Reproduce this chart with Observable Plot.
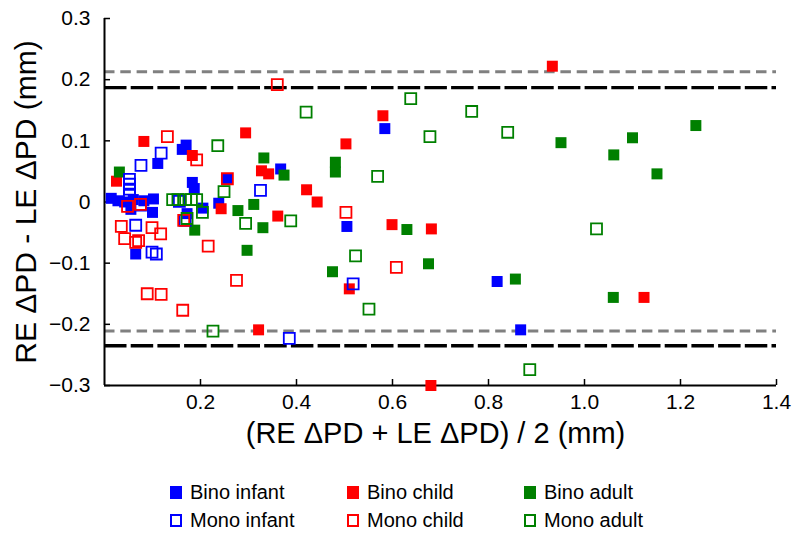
<!DOCTYPE html>
<html><head><meta charset="utf-8">
<script src="https://cdn.jsdelivr.net/npm/d3@7"></script>
<script src="https://cdn.jsdelivr.net/npm/@observablehq/plot@0.6"></script>
<style>
html,body{margin:0;padding:0;background:#fff;}
body{font-family:"Liberation Sans",Arial,Helvetica,sans-serif;width:800px;height:555px;overflow:hidden;}
#legend{position:relative;width:800px;height:95px;}
.item{position:absolute;height:24px;display:flex;align-items:center;font-size:20px;color:#000;white-space:nowrap;}
.sw{width:12px;height:13px;margin-right:8px;box-sizing:border-box;}
</style></head><body>
<div id="chart"></div>
<div id="legend"></div>
<script>
// ---- data: [mean, difference] in mm ----
const binoInfant = [[0.014,0.006],[0.028,0.002],[0.042,0.000],[0.060,0.004],[0.082,0.002],[0.102,0.005],
  [0.055,-0.012],[0.100,-0.017],[0.065,-0.085],[0.111,0.063],[0.170,0.093],[0.162,0.086],[0.183,0.032],
  [0.187,0.022],[0.205,-0.010],[0.172,-0.019],[0.238,-0.002],[0.255,0.038],[0.367,0.054],[0.505,-0.040],
  [0.584,0.120],[0.818,-0.130],[0.867,-0.209]];
const binoChild = [[0.025,0.034],[0.082,0.099],[0.183,0.076],[0.243,-0.011],[0.294,0.113],[0.327,0.051],
  [0.342,0.046],[0.361,-0.023],[0.421,0.020],[0.443,0.000],[0.503,0.095],[0.580,0.141],[0.599,-0.037],
  [0.681,-0.044],[0.510,-0.142],[0.321,-0.209],[0.680,-0.300],[0.933,0.222],[1.124,-0.156]];
const binoAdult = [[0.031,0.049],[0.188,-0.046],[0.278,-0.014],[0.311,-0.004],[0.330,-0.042],[0.297,-0.079],
  [0.332,0.072],[0.374,0.044],[0.481,0.065],[0.481,0.049],[0.475,-0.114],[0.630,-0.045],[0.675,-0.101],
  [0.856,-0.126],[0.951,0.097],[1.061,0.077],[1.100,0.105],[1.151,0.046],[1.232,0.125],[1.060,-0.156]];
const monoInfant = [[0.118,0.080],[0.076,0.060],[0.052,0.037],[0.052,0.029],[0.052,0.021],[0.052,0.013],
  [0.075,-0.005],[0.065,-0.038],[0.099,-0.082],[0.108,-0.085],[0.156,0.001],[0.168,-0.030],[0.325,0.019],
  [0.518,-0.134],[0.385,-0.223]];
const monoChild = [[0.131,0.107],[0.192,0.069],[0.048,-0.007],[0.075,-0.004],[0.035,-0.040],[0.042,-0.060],
  [0.065,-0.066],[0.071,-0.063],[0.099,-0.042],[0.117,-0.052],[0.089,-0.150],[0.118,-0.151],[0.163,-0.177],
  [0.216,-0.072],[0.275,-0.128],[0.165,-0.030],[0.256,0.038],[0.360,0.192],[0.503,-0.017],[0.608,-0.107]];
const monoAdult = [[0.142,0.004],[0.153,0.004],[0.169,0.004],[0.181,0.004],[0.192,0.004],[0.204,-0.017],
  [0.172,-0.027],[0.236,0.092],[0.249,0.017],[0.294,-0.035],[0.388,-0.031],[0.420,0.147],[0.569,0.042],
  [0.523,-0.088],[0.551,-0.175],[0.638,0.169],[0.678,0.107],[0.765,0.148],[0.840,0.114],[1.025,-0.044],
  [0.886,-0.274],[0.226,-0.211]];

// limits of agreement
const grayLimits = [0.213, -0.211];
const blackLimits = [0.187, -0.235];

// ticks
const xTicks = [0.2, 0.4, 0.6, 0.8, 1.0, 1.2, 1.4];
const xTickLabels = ["0.2","0.4","0.6","0.8","1.0","1.2","1.4"];
const yTicks = [0.3, 0.2, 0.1, 0, -0.1, -0.2, -0.3];
const yTickLabels = ["0.3","0.2","0.1","0","\u22120.1","\u22120.2","\u22120.3"];
const xTitle = "(RE \u0394PD + LE \u0394PD) / 2 (mm)";
const yTitle = "RE \u0394PD - LE \u0394PD (mm)";

const series = [
  {name:"Bino infant", color:"#0000ff", filled:true, pts:binoInfant},
  {name:"Bino child", color:"#ff0000", filled:true, pts:binoChild},
  {name:"Bino adult", color:"#008000", filled:true, pts:binoAdult},
  {name:"Mono infant", color:"#0000ff", filled:false, pts:monoInfant},
  {name:"Mono child", color:"#ff0000", filled:false, pts:monoChild},
  {name:"Mono adult", color:"#008000", filled:false, pts:monoAdult}
];

const W = 800, H = 460, mL = 104, mR = 24, mT = 18, mB = 75;
const frameW = W - mL - mR, frameH = H - mT - mB;

const marks = [
  Plot.ruleY(grayLimits, {y: d => d, x1: 0, x2: 1.4, stroke: "#808080", strokeWidth: 3, strokeDasharray: "10.5,5.8"}),
  Plot.ruleY(blackLimits, {y: d => d, x1: 0, x2: 1.4, stroke: "#000", strokeWidth: 3.3, strokeDasharray: "22.5,4.2"}),
  Plot.ruleX([0], {x: d => d, stroke: "#000", strokeWidth: 2}),
  Plot.ruleY([-0.3], {y: d => d, stroke: "#000", strokeWidth: 2}),
  Plot.ruleX(xTicks, {x: d => d, insetTop: frameH - 6, stroke: "#000", strokeWidth: 1.5}),
  Plot.ruleY(yTicks, {y: d => d, insetRight: frameW - 6, stroke: "#000", strokeWidth: 1.5}),
  Plot.axisX({ticks: xTicks, tickFormat: d => xTickLabels[xTicks.indexOf(d)], tickSize: 0, tickPadding: 9, fontSize: 21, label: null}),
  Plot.axisY({ticks: yTicks, tickFormat: d => yTickLabels[yTicks.indexOf(d)], tickSize: 0, tickPadding: 14, fontSize: 21, label: null}),
  Plot.text([xTitle], {text: d => d, frameAnchor: "bottom", textAnchor: "middle", dx: -5, dy: 57, fontSize: 29}),
  Plot.text([yTitle], {text: d => d, frameAnchor: "left", textAnchor: "middle", dx: -78, rotate: -90, fontSize: 30})
];
for (const s of series) {
  marks.push(Plot.dot(s.pts, {
    x: d => d[0], y: d => d[1], symbol: "square", r: 6.2,
    fill: s.filled ? s.color : "none",
    stroke: s.filled ? "none" : s.color,
    strokeWidth: s.filled ? 0 : 1.8
  }));
}

const chart = Plot.plot({
  width: W, height: H,
  marginLeft: mL, marginRight: mR, marginTop: mT, marginBottom: mB,
  style: {fontFamily: "'Liberation Sans', Arial, Helvetica, sans-serif", color: "#000", background: "#fff", overflow: "visible"},
  x: {domain: [0, 1.4]},
  y: {domain: [-0.3, 0.3]},
  marks
});
document.getElementById("chart").appendChild(chart);

// legend
const legend = document.getElementById("legend");
const colX = [170, 347, 524];
const rowY = [20, 48];
series.forEach((s, i) => {
  const col = i % 3, row = Math.floor(i / 3);
  const it = document.createElement("div");
  it.className = "item";
  it.style.left = colX[col] + "px";
  it.style.top = rowY[row] + "px";
  const sw = document.createElement("span");
  sw.className = "sw";
  if (s.filled) sw.style.background = s.color;
  else sw.style.border = "2px solid " + s.color;
  const tx = document.createElement("span");
  tx.textContent = s.name;
  it.appendChild(sw); it.appendChild(tx);
  legend.appendChild(it);
});
</script>
</body></html>
